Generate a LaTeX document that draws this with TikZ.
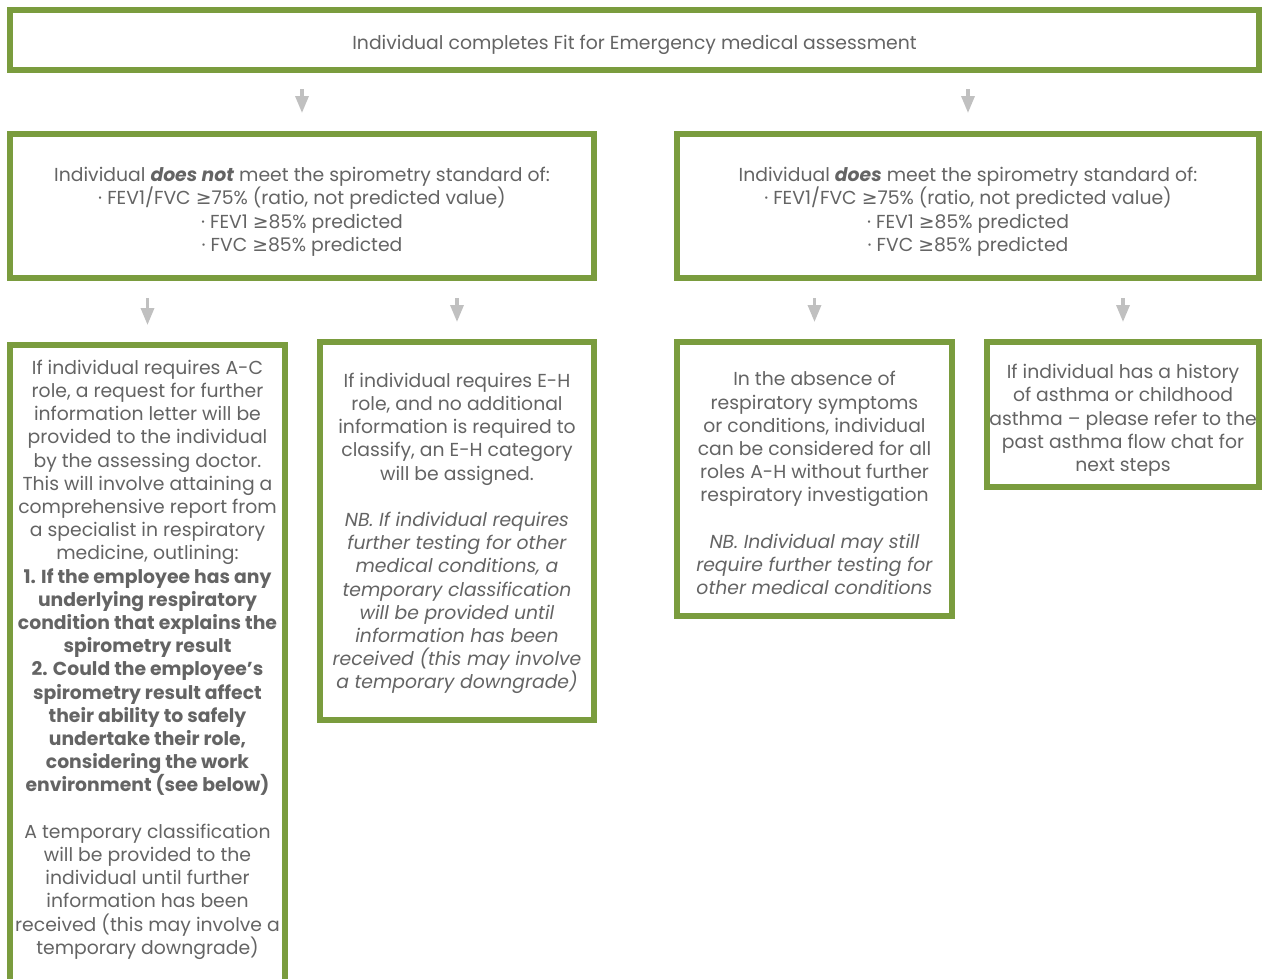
\documentclass[tikz,border=0pt]{standalone}
\usepackage{fontspec}
\setmainfont{Poppins}
\newfontfamily\symf{DejaVu Sans}
\usetikzlibrary{arrows.meta}
\definecolor{boxgreen}{RGB}{122,156,62}
\definecolor{txtgray}{RGB}{100,100,100}
\definecolor{arrgray}{RGB}{192,192,192}
\newcommand{\geqs}{{\symf ≥}}
\newcommand{\tstrut}[1]{\rule{0pt}{#1}}
\begin{document}
\begin{tikzpicture}[x=1pt,y=-1pt,
  box/.style={draw=boxgreen, line width=6pt, fill=white, inner sep=0pt, align=center,
    text=txtgray, font=\fontsize{18.8}{23.2}\selectfont},
  lowtext/.style={text depth=0pt},
  arr/.style={draw=arrgray, line width=3.3pt, -{Triangle[width=13pt,length=17pt]}}]
\useasboundingbox (0,0) rectangle (1263,978);
\begin{scope}
\clip (0,0) rectangle (1263,978);
\node[box, minimum width=1249pt, minimum height=60pt] (top) at (634.5,40)
  {\tstrut{24pt}Individual completes Fit for Emergency medical assessment};
\node[box, lowtext, minimum width=584pt, minimum height=144pt] (L2) at (302,206)
  {\tstrut{21pt}Individual \textbf{\textit{does not}} meet the spirometry standard of:\\
   · FEV1/FVC \geqs75\% (ratio, not predicted value)\\
   · FEV1 \geqs85\% predicted\\
   · FVC \geqs85\% predicted};
\node[box, lowtext, minimum width=582pt, minimum height=144pt] (R2) at (968,206)
  {\tstrut{21pt}Individual \textbf{\textit{does}} meet the spirometry standard of:\\
   · FEV1/FVC \geqs75\% (ratio, not predicted value)\\
   · FEV1 \geqs85\% predicted\\
   · FVC \geqs85\% predicted};
\node[box, anchor=north, minimum width=275pt] (A) at (147.5,342)
  {\begin{minipage}[t][660pt][t]{275pt}\centering
   \fontsize{18.8}{23.2}\selectfont\vspace{15pt}
   If individual requires A-C\\
   role, a request for further\\
   information letter will be\\
   provided to the individual\\
   by the assessing doctor.\\
   This will involve attaining a\\
   comprehensive report from\\
   a specialist in respiratory\\
   medicine, outlining:\\
   \textbf{1. If the employee has any}\\
   \textbf{underlying respiratory}\\
   \textbf{condition that explains the}\\
   \textbf{spirometry result}\\
   \textbf{2. Could the employee’s}\\
   \textbf{spirometry result affect}\\
   \textbf{their ability to safely}\\
   \textbf{undertake their role,}\\
   \textbf{considering the work}\\
   \textbf{environment (see below)}\\[23.2pt]
   A temporary classification\\
   will be provided to the\\
   individual until further\\
   information has been\\
   received (this may involve a\\
   temporary downgrade)
   \end{minipage}};
\node[box, lowtext, minimum width=274pt, minimum height=378pt] (B) at (457,531)
  {If individual requires E-H\\
   role, and no additional\\
   information is required to\\
   classify, an E-H category\\
   will be assigned.\\[23.2pt]
   \textit{NB. If individual requires}\\
   \textit{further testing for other}\\
   \textit{medical conditions, a}\\
   \textit{temporary classification}\\
   \textit{will be provided until}\\
   \textit{information has been}\\
   \textit{received (this may involve}\\
   \textit{a temporary downgrade)}};
\node[box, lowtext, minimum width=275pt, minimum height=274pt] (C) at (814.5,479)
  {\tstrut{22.5pt}In the absence of\\
   respiratory symptoms\\
   or conditions, individual\\
   can be considered for all\\
   roles A-H without further\\
   respiratory investigation\\[23.2pt]
   \textit{NB. Individual may still}\\
   \textit{require further testing for}\\
   \textit{other medical conditions}};
\node[box, lowtext, minimum width=272pt, minimum height=145pt] (D) at (1123,414.5)
  {\tstrut{21pt}If individual has a history\\
   of asthma or childhood\\
   asthma – please refer to the\\
   past asthma flow chat for\\
   next steps};
\draw[arr] ([yshift=-16pt]top.south -| L2.north) -- ([yshift=18pt]L2.north);
\draw[arr] ([yshift=-16pt]top.south -| R2.north) -- ([yshift=18pt]R2.north);
\draw[arr] ([yshift=-17pt]L2.south -| A.north) -- ([yshift=17pt]A.north);
\draw[arr] ([yshift=-17pt]L2.south -| B.north) -- ([yshift=17pt]B.north);
\draw[arr] ([yshift=-17pt]R2.south -| C.north) -- ([yshift=17pt]C.north);
\draw[arr] ([yshift=-17pt]R2.south -| D.north) -- ([yshift=17pt]D.north);
\end{scope}
\end{tikzpicture}
\end{document}
